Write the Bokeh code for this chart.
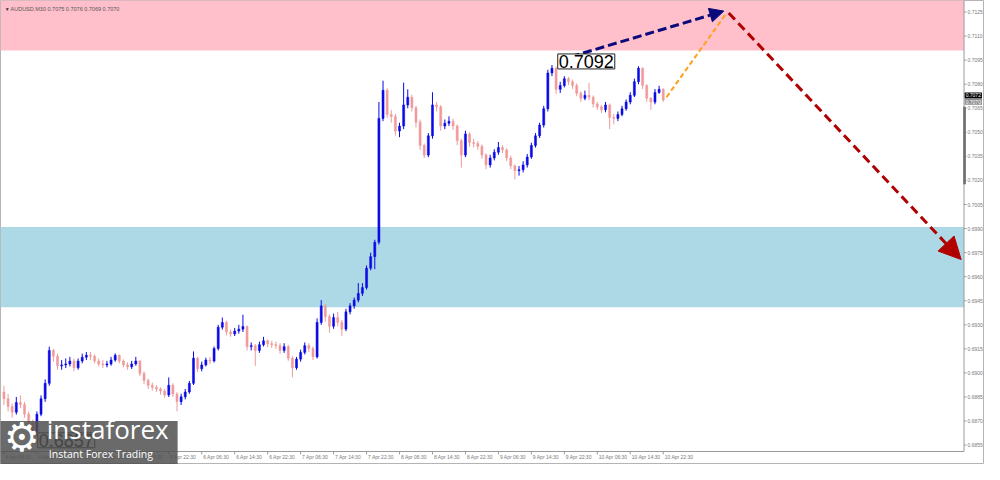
from bokeh.plotting import figure
from bokeh.models import (Range1d, BoxAnnotation, Label, Arrow, NormalHead, ColumnDataSource)
from bokeh.core.properties import value
from bokeh.embed import file_html
from bokeh.resources import INLINE

# ---------------- data ----------------
symbol_title = "AUDUSD,M30  0.7075 0.7076 0.7069 0.7070"

first_open = 0.68881
closes = [
    0.68839, 0.68791, 0.68755, 0.68815, 0.68803, 0.68743, 0.68694, 0.68634, 0.68743, 0.68839,
    0.68935, 0.69140, 0.69104, 0.69044, 0.69050, 0.69056, 0.69074, 0.69032, 0.69074, 0.69098,
    0.69110, 0.69104, 0.69074, 0.69056, 0.69050, 0.69056, 0.69080, 0.69110, 0.69074, 0.69050,
    0.69038, 0.69056, 0.69074, 0.68996, 0.68953, 0.68923, 0.68911, 0.68899, 0.68887, 0.68863,
    0.68923, 0.68869, 0.68821, 0.68851, 0.68881, 0.68935, 0.69092, 0.69026, 0.69050, 0.69080,
    0.69074, 0.69152, 0.69285, 0.69315, 0.69255, 0.69243, 0.69261, 0.69273, 0.69290, 0.69164,
    0.69170, 0.69140, 0.69176, 0.69200, 0.69182, 0.69176, 0.69170, 0.69140, 0.69164, 0.69092,
    0.69032, 0.69086, 0.69128, 0.69170, 0.69152, 0.69100, 0.69315, 0.69418, 0.69351, 0.69291,
    0.69345, 0.69315, 0.69273, 0.69381, 0.69418, 0.69454, 0.69496, 0.69532, 0.69653, 0.69725,
    0.69815, 0.70587, 0.70762, 0.70611, 0.70599, 0.70508, 0.70539, 0.70671, 0.70719, 0.70653,
    0.70563, 0.70418, 0.70358, 0.70478, 0.70671, 0.70659, 0.70539, 0.70557, 0.70569, 0.70539,
    0.70448, 0.70358, 0.70490, 0.70436, 0.70430, 0.70412, 0.70358, 0.70297, 0.70340, 0.70376,
    0.70406, 0.70390, 0.70340, 0.70291, 0.70261, 0.70267, 0.70297, 0.70346, 0.70418, 0.70478,
    0.70545, 0.70647, 0.70870, 0.70900, 0.70768, 0.70792, 0.70834, 0.70816, 0.70792, 0.70743,
    0.70713, 0.70731, 0.70719, 0.70677, 0.70659, 0.70641, 0.70671, 0.70593, 0.70587, 0.70611,
    0.70647, 0.70689, 0.70731, 0.70816, 0.70900, 0.70792, 0.70713, 0.70689, 0.70749, 0.70768,
    0.70701,
]
highs = [
    0.68920, 0.68870, 0.68810, 0.68850, 0.68860, 0.68820, 0.68760, 0.68710, 0.68760, 0.68860,
    0.68960, 0.69164, 0.69150, 0.69120, 0.69080, 0.69090, 0.69100, 0.69090, 0.69090, 0.69120,
    0.69130, 0.69130, 0.69115, 0.69090, 0.69080, 0.69075, 0.69100, 0.69122, 0.69115, 0.69085,
    0.69065, 0.69075, 0.69100, 0.69080, 0.69010, 0.68965, 0.68940, 0.68925, 0.68910, 0.68900,
    0.68972, 0.68935, 0.68880, 0.68870, 0.68900, 0.68950, 0.69134, 0.69100, 0.69070, 0.69095,
    0.69100, 0.69165, 0.69300, 0.69345, 0.69325, 0.69270, 0.69280, 0.69300, 0.69363, 0.69295,
    0.69190, 0.69180, 0.69195, 0.69225, 0.69210, 0.69200, 0.69195, 0.69185, 0.69185, 0.69175,
    0.69105, 0.69100, 0.69145, 0.69190, 0.69185, 0.69165, 0.69340, 0.69454, 0.69430, 0.69365,
    0.69370, 0.69380, 0.69330, 0.69400, 0.69435, 0.69470, 0.69560, 0.69560, 0.69670, 0.69750,
    0.69830, 0.70689, 0.70822, 0.70775, 0.70640, 0.70615, 0.70560, 0.70810, 0.70768, 0.70735,
    0.70665, 0.70580, 0.70430, 0.70495, 0.70750, 0.70690, 0.70670, 0.70580, 0.70600, 0.70585,
    0.70550, 0.70460, 0.70510, 0.70500, 0.70460, 0.70445, 0.70425, 0.70370, 0.70360, 0.70395,
    0.70440, 0.70420, 0.70400, 0.70355, 0.70300, 0.70290, 0.70320, 0.70365, 0.70435, 0.70495,
    0.70560, 0.70665, 0.70890, 0.70920, 0.70910, 0.70815, 0.70850, 0.70845, 0.70830, 0.70805,
    0.70755, 0.70760, 0.70810, 0.70730, 0.70690, 0.70670, 0.70690, 0.70680, 0.70615, 0.70630,
    0.70665, 0.70705, 0.70750, 0.70835, 0.70912, 0.70905, 0.70800, 0.70720, 0.70770, 0.70790,
    0.70775,
]
lows = [
    0.68800, 0.68760, 0.68720, 0.68740, 0.68780, 0.68720, 0.68660, 0.68570, 0.68610, 0.68730,
    0.68820, 0.68920, 0.69070, 0.69020, 0.69020, 0.69030, 0.69040, 0.69010, 0.69020, 0.69060,
    0.69080, 0.69080, 0.69060, 0.69040, 0.69030, 0.69035, 0.69045, 0.69070, 0.69060, 0.69035,
    0.69020, 0.69025, 0.69045, 0.68980, 0.68930, 0.68900, 0.68890, 0.68880, 0.68865, 0.68845,
    0.68850, 0.68850, 0.68761, 0.68800, 0.68835, 0.68870, 0.68925, 0.69005, 0.69010, 0.69040,
    0.69055, 0.69065, 0.69140, 0.69270, 0.69235, 0.69225, 0.69230, 0.69245, 0.69255, 0.69140,
    0.69140, 0.69044, 0.69125, 0.69165, 0.69160, 0.69155, 0.69150, 0.69120, 0.69125, 0.69075,
    0.68972, 0.69020, 0.69070, 0.69115, 0.69130, 0.69080, 0.69090, 0.69300, 0.69320, 0.69250,
    0.69275, 0.69290, 0.69230, 0.69260, 0.69365, 0.69400, 0.69440, 0.69480, 0.69520, 0.69640,
    0.69647, 0.69800, 0.70570, 0.70590, 0.70560, 0.70480, 0.70470, 0.70520, 0.70650, 0.70630,
    0.70530, 0.70390, 0.70340, 0.70345, 0.70460, 0.70630, 0.70510, 0.70520, 0.70540, 0.70515,
    0.70420, 0.70280, 0.70345, 0.70410, 0.70405, 0.70390, 0.70335, 0.70270, 0.70280, 0.70325,
    0.70360, 0.70370, 0.70320, 0.70270, 0.70207, 0.70230, 0.70250, 0.70280, 0.70335, 0.70405,
    0.70465, 0.70530, 0.70630, 0.70850, 0.70740, 0.70745, 0.70780, 0.70795, 0.70770, 0.70725,
    0.70690, 0.70700, 0.70700, 0.70655, 0.70640, 0.70620, 0.70625, 0.70521, 0.70550, 0.70570,
    0.70600, 0.70635, 0.70675, 0.70720, 0.70800, 0.70770, 0.70690, 0.70641, 0.70675, 0.70740,
    0.70690,
]

time_tick_pos = [0, 8, 16, 24, 32, 40, 48, 56, 64, 72, 80, 88, 96, 104, 112, 120, 128, 136, 144, 152, 160]
time_tick_labels = ["4 Apr 06:30", "4 Apr 14:30", "4 Apr 22:30", "5 Apr 06:30", "5 Apr 14:30",
                    "5 Apr 22:30", "6 Apr 06:30", "6 Apr 14:30", "6 Apr 22:30", "7 Apr 06:30",
                    "7 Apr 14:30", "7 Apr 22:30", "8 Apr 06:30", "8 Apr 14:30", "8 Apr 22:30",
                    "9 Apr 06:30", "9 Apr 14:30", "9 Apr 22:30", "10 Apr 06:30", "10 Apr 14:30",
                    "10 Apr 22:30"]
price_ticks = [0.6855, 0.6870, 0.6885, 0.6900, 0.6915, 0.6930, 0.6945, 0.6960, 0.6975, 0.6990,
               0.7005, 0.7020, 0.7035, 0.7050, 0.7065, 0.7080, 0.7095, 0.7110, 0.7125]
price_tick_labels = ["%.4f" % v for v in price_ticks]

resistance_zone = [0.7101, 0.7140]
support_zone = [0.6941, 0.6991]

peak_x, peak_price, peak_text = 133, 0.7092, "0.7092"
low_x, low_price, low_text = 7, 0.6857, "0.6857"

wave_up = dict(x0=134.5, y0=0.70948, x1=174.7, y1=0.71256)      # blue
wave_sub = dict(x0=160.8, y0=0.70719, x1=175.2, y1=0.71238)     # orange
wave_down = dict(x0=175.9, y0=0.71244, x1=232.3, y1=0.69707)    # red

ask_text, ask_price = "0.7072", 0.7073
bid_text, bid_price = "0.7070", 0.7069

# ---------------- figure (MT4-style scales drawn inside the canvas) ----------------
XMIN, XMAX = -0.836, 237.97
YMIN, YMAX = 0.68429, 0.71322
SCALE_X = 233.0        # position of the price scale (right edge of the chart area)
SCALE_Y = 0.6851       # position of the time scale (bottom edge of the chart area)
AXIS_COL = "#9a9a9a"
LBL_COL = "#7a7a7a"

p = figure(width=984, height=464, x_range=Range1d(XMIN, XMAX), y_range=Range1d(YMIN, YMAX),
           output_backend="svg", toolbar_location=None,
           x_axis_location=None, y_axis_location=None, min_border=0,
           background_fill_color="white", border_fill_color="white",
           outline_line_color="#b4b4b4")
p.grid.visible = False

# zones
p.add_layout(BoxAnnotation(bottom=resistance_zone[0], top=resistance_zone[1], right=SCALE_X,
                           fill_color="pink", fill_alpha=1, line_alpha=0, level="underlay"))
p.add_layout(BoxAnnotation(bottom=support_zone[0], top=support_zone[1], right=SCALE_X,
                           fill_color="lightblue", fill_alpha=1, line_alpha=0, level="underlay"))

# candles
hours = list(range(len(closes)))
opens = [first_open] + closes[:-1]
up_col, dn_col = "#0a0ae6", "#f09a9a"
colors = [up_col if c >= o else dn_col for o, c in zip(opens, closes)]
src = ColumnDataSource(dict(x=hours, o=opens, c=closes, h=highs, l=lows, col=colors,
                            top=[max(o, c) for o, c in zip(opens, closes)],
                            bot=[min(o, c) for o, c in zip(opens, closes)]))
p.segment(x0="x", y0="l", x1="x", y1="h", color="col", line_width=1, source=src)
p.vbar(x="x", width=0.5, top="top", bottom="bot", fill_color="col", line_color="col",
       line_width=0.5, source=src)

# price scale (right)
p.segment(x0=[SCALE_X], y0=[YMAX], x1=[SCALE_X], y1=[SCALE_Y], line_color=AXIS_COL, line_width=1)
p.segment(x0=[SCALE_X] * len(price_ticks), y0=price_ticks, x1=[SCALE_X + 0.6] * len(price_ticks),
          y1=price_ticks, line_color=AXIS_COL, line_width=1)
p.text(x=[SCALE_X] * len(price_ticks), y=price_ticks, text=price_tick_labels, x_offset=3.5,
       text_font=value("Liberation Sans"), text_font_size=value("5px"), text_color=LBL_COL,
       text_baseline="middle", text_align="left")

# time scale (bottom)
p.segment(x0=[XMIN], y0=[SCALE_Y], x1=[SCALE_X], y1=[SCALE_Y], line_color=AXIS_COL, line_width=1)
p.segment(x0=time_tick_pos, y0=[SCALE_Y] * len(time_tick_pos), x1=time_tick_pos,
          y1=[SCALE_Y - 0.00018] * len(time_tick_pos), line_color=AXIS_COL, line_width=1)
p.text(x=time_tick_pos, y=[SCALE_Y] * len(time_tick_pos), text=time_tick_labels, x_offset=1.5, y_offset=2,
       text_font=value("Liberation Sans"), text_font_size=value("5px"), text_color=LBL_COL,
       text_baseline="top", text_align="left")

# scroll marker on the price scale
p.add_layout(BoxAnnotation(left=SCALE_X - 0.2, right=SCALE_X + 0.45, top=0.70659, bottom=0.70177,
                           fill_color="#707070", fill_alpha=1, line_alpha=0))

# forecast arrows
p.add_layout(Arrow(x_start=wave_sub["x0"], y_start=wave_sub["y0"], x_end=wave_sub["x1"], y_end=wave_sub["y1"],
                   end=None, line_color="#ffa11a", line_width=2, line_dash="5 3"))
p.add_layout(Arrow(x_start=wave_up["x0"], y_start=wave_up["y0"], x_end=wave_up["x1"], y_end=wave_up["y1"],
                   end=NormalHead(size=14, fill_color="#0a0a7a", line_color="#0a0a7a"),
                   line_color="#0a0a7a", line_width=3, line_dash="9 4"))
p.add_layout(Arrow(x_start=wave_down["x0"], y_start=wave_down["y0"], x_end=wave_down["x1"], y_end=wave_down["y1"],
                   end=NormalHead(size=22, fill_color="#b00000", line_color="#b00000"),
                   line_color="#b00000", line_width=3, line_dash="9 5"))

# extreme labels
p.add_layout(Label(x=peak_x + 1.4, y=peak_price + 0.00022, text=peak_text, text_font="Liberation Sans",
                   text_font_size="18px", text_color="black", text_baseline="middle",
                   background_fill_color="white", border_line_color="#222222", padding=1))
p.add_layout(Label(x=low_x + 1.2, y=low_price + 0.0001, text=low_text, text_font="Liberation Sans",
                   text_font_size="18px", text_color="black", text_baseline="middle",
                   background_fill_color="white", border_line_color="#222222", padding=1))

# header text
p.add_layout(Label(x=0.2, y=0.71268, text="\u25BC", text_font_size="5px", text_color="#333333",
                   text_baseline="middle"))
p.add_layout(Label(x=1.6, y=0.71268, text=symbol_title, text_font="Liberation Sans",
                   text_font_size="5.5px", text_color="#555555", text_baseline="middle"))

# current price markers on the price scale
p.add_layout(Label(x=SCALE_X + 0.15, y=ask_price, text=ask_text, text_font="Liberation Sans",
                   text_font_size="5px", text_color="white",
                   text_baseline="middle", background_fill_color="black", padding=1))
p.add_layout(Label(x=SCALE_X + 0.15, y=bid_price, text=bid_text, text_font="Liberation Sans",
                   text_font_size="5px", text_color="white",
                   text_baseline="middle", background_fill_color="#8a8a8a", padding=1))

# watermark logo
p.add_layout(BoxAnnotation(left=XMIN - 1, right=42.15, top=0.68700, bottom=YMIN - 0.001,
                           fill_color="#505050", fill_alpha=0.85, line_alpha=0, level="overlay"))
p.add_layout(Label(x=0.0, y=0.68458, text="\u2699", text_font="DejaVu Sans", text_font_size="40px",
                   text_color="white", level="overlay"))
p.add_layout(Label(x=10.4, y=0.68538, text="instaforex", text_font="Open Sans", text_font_size="26px",
                   text_color="white", level="overlay"))
p.add_layout(Label(x=10.9, y=0.68448, text="Instant Forex Trading", text_font="Open Sans",
                   text_font_size="10.5px", text_color="white", level="overlay"))

open("out.html", "w").write(file_html(p, INLINE))
